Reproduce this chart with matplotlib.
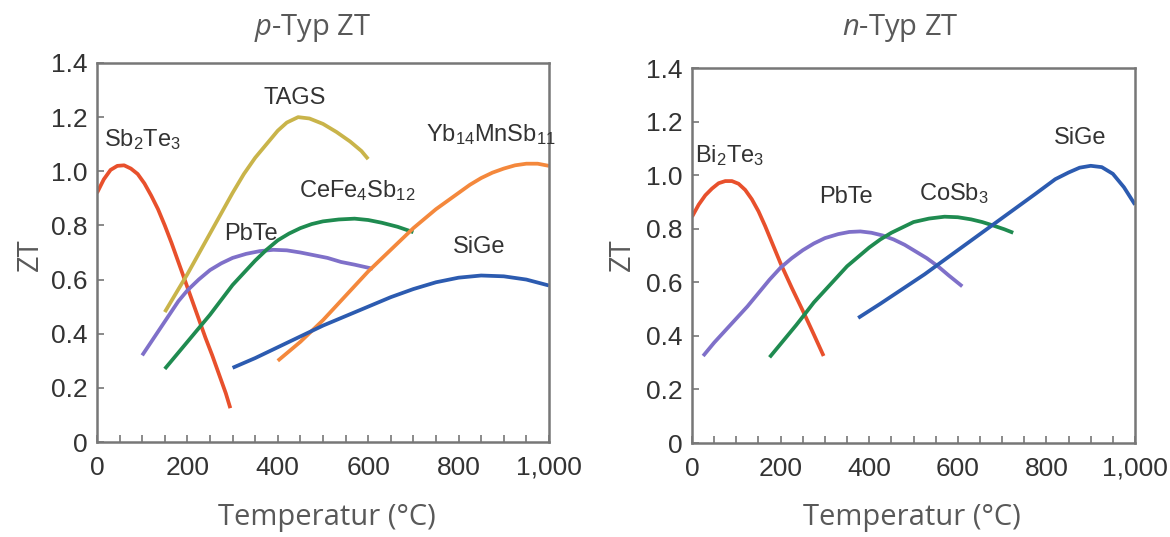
import matplotlib
matplotlib.use("Agg")
import matplotlib.pyplot as plt
from matplotlib.ticker import MultipleLocator, FixedLocator

plt.rcParams['mathtext.fontset'] = 'custom'
plt.rcParams['mathtext.it'] = 'Open Sans:italic'
plt.rcParams['mathtext.rm'] = 'Open Sans'

narrow = ['Liberation Sans Narrow', 'Liberation Sans', 'DejaVu Sans']

# p-type curves (temperature in C, ZT)
sb2te3_t = [0, 15, 30, 45, 60, 75, 90, 105, 120, 135, 150, 165, 180, 195, 210, 225, 240, 255, 270, 285, 295]
sb2te3_zt = [0.92, 0.97, 1.005, 1.02, 1.022, 1.01, 0.99, 0.955, 0.91, 0.86, 0.80, 0.735, 0.665, 0.595,
             0.525, 0.455, 0.385, 0.32, 0.25, 0.18, 0.125]
tags_t = [150, 175, 200, 225, 250, 275, 300, 325, 350, 375, 400, 420, 445, 470, 500, 530, 560, 585, 600]
tags_zt = [0.48, 0.55, 0.62, 0.695, 0.77, 0.845, 0.92, 0.99, 1.05, 1.10, 1.15, 1.18, 1.20, 1.195, 1.175,
           1.145, 1.11, 1.075, 1.045]
pbte_p_t = [100, 120, 140, 160, 180, 200, 225, 250, 275, 300, 330, 360, 390, 420, 450, 480, 510, 540, 570, 610]
pbte_p_zt = [0.32, 0.37, 0.42, 0.47, 0.52, 0.56, 0.60, 0.635, 0.66, 0.68, 0.695, 0.705, 0.71, 0.708, 0.70,
             0.69, 0.68, 0.665, 0.655, 0.64]
cefe_t = [150, 175, 200, 225, 250, 275, 300, 325, 350, 375, 400, 425, 450, 475, 500, 535, 570, 600, 630, 665, 700]
cefe_zt = [0.27, 0.32, 0.37, 0.42, 0.47, 0.525, 0.58, 0.625, 0.67, 0.71, 0.745, 0.77, 0.79, 0.805, 0.815,
           0.822, 0.825, 0.82, 0.81, 0.795, 0.775]
yb_t = [400, 425, 450, 475, 500, 525, 550, 575, 600, 625, 650, 675, 700, 725, 750, 775, 800, 825, 850,
        875, 900, 925, 950, 975, 1000]
yb_zt = [0.30, 0.335, 0.37, 0.41, 0.45, 0.495, 0.54, 0.585, 0.63, 0.67, 0.71, 0.75, 0.79, 0.825, 0.86,
         0.89, 0.92, 0.95, 0.975, 0.995, 1.01, 1.022, 1.028, 1.028, 1.02]
sige_p_t = [300, 350, 400, 450, 500, 550, 600, 650, 700, 750, 800, 850, 900, 950, 1000]
sige_p_zt = [0.274, 0.31, 0.35, 0.39, 0.43, 0.465, 0.50, 0.535, 0.565, 0.59, 0.607, 0.615, 0.612, 0.60, 0.578]

# n-type curves
bi2te3_t = [0, 15, 30, 45, 60, 75, 90, 105, 120, 135, 150, 165, 180, 200, 225, 254, 275, 297]
bi2te3_zt = [0.845, 0.89, 0.925, 0.95, 0.97, 0.978, 0.978, 0.968, 0.945, 0.91, 0.865, 0.81, 0.75, 0.67,
             0.58, 0.48, 0.405, 0.325]
pbte_n_t = [25, 50, 75, 100, 125, 150, 175, 200, 225, 250, 275, 300, 330, 355, 380, 405, 430, 455, 480,
            505, 530, 555, 580, 610]
pbte_n_zt = [0.325, 0.375, 0.42, 0.465, 0.51, 0.56, 0.61, 0.655, 0.69, 0.72, 0.745, 0.765, 0.78, 0.788,
             0.79, 0.785, 0.775, 0.76, 0.74, 0.715, 0.69, 0.66, 0.625, 0.585]
cosb3_t = [175, 195, 215, 235, 254, 275, 300, 325, 350, 375, 400, 425, 450, 475, 500, 535, 570, 600, 630,
           655, 680, 705, 725]
cosb3_zt = [0.32, 0.36, 0.40, 0.44, 0.48, 0.525, 0.57, 0.615, 0.66, 0.695, 0.73, 0.76, 0.785, 0.805,
            0.825, 0.838, 0.845, 0.843, 0.835, 0.825, 0.812, 0.798, 0.785]
sige_n_t = [375, 425, 475, 525, 575, 625, 675, 725, 775, 820, 850, 875, 900, 925, 950, 975, 1000]
sige_n_zt = [0.467, 0.52, 0.575, 0.63, 0.69, 0.75, 0.81, 0.87, 0.93, 0.985, 1.01, 1.028, 1.035, 1.03,
             1.005, 0.955, 0.89]

x_ticks = [0, 200, 400, 600, 800, 1000]
x_ticklabels = ['0', '200', '400', '600', '800', '1,000']
y_ticks = [0, 0.2, 0.4, 0.6, 0.8, 1.0, 1.2, 1.4]
y_ticklabels = ['0', '0.2', '0.4', '0.6', '0.8', '1.0', '1.2', '1.4']

RED = '#e8502c'
YEL = '#c9b44a'
PUR = '#7f70c9'
GRN = '#1f8b50'
ORA = '#f4883c'
BLU = '#2c5bb0'

fig = plt.figure(figsize=(11.7, 5.37), dpi=100)
ax1 = fig.add_axes([0.0829, 0.1769, 0.3863, 0.7058])
ax2 = fig.add_axes([0.5915, 0.1750, 0.3786, 0.6983])


def style(ax):
    ax.set_xlim(0, 1000)
    ax.set_ylim(0, 1.4)
    ax.xaxis.set_major_locator(FixedLocator(x_ticks))
    ax.xaxis.set_minor_locator(MultipleLocator(50))
    ax.set_xticklabels(x_ticklabels)
    ax.set_yticks(y_ticks)
    ax.set_yticklabels(y_ticklabels)
    ax.tick_params(direction='in', length=5, width=1.2, color='#777777',
                   labelsize=19, labelcolor='#333333', pad=7)
    ax.tick_params(which='minor', direction='in', length=5, width=1.2, color='#777777')
    ax.tick_params(axis='x', pad=10)
    ax.tick_params(axis='y', which='minor', left=False)
    for lab in ax.get_xticklabels() + ax.get_yticklabels():
        lab.set_family(narrow)
    for s in ax.spines.values():
        s.set_color('#777777')
        s.set_linewidth(1.8)


def lab(ax, x, y, s):
    ax.text(x, y, s, ha='center', va='center', fontsize=17, color='#333333',
            family=narrow)


lw = 2.7
kw = dict(lw=lw, solid_capstyle='butt', solid_joinstyle='round')
ax1.plot(sb2te3_t, sb2te3_zt, color=RED, **kw)
ax1.plot(tags_t, tags_zt, color=YEL, **kw)
ax1.plot(pbte_p_t, pbte_p_zt, color=PUR, **kw)
ax1.plot(cefe_t, cefe_zt, color=GRN, **kw)
ax1.plot(yb_t, yb_zt, color=ORA, **kw)
ax1.plot(sige_p_t, sige_p_zt, color=BLU, **kw)
style(ax1)
lab(ax1, 101, 1.116, r'Sb$\mathregular{_2}$Te$\mathregular{_3}$')
lab(ax1, 438, 1.27, 'TAGS')
lab(ax1, 871, 1.135, r'Yb$\mathregular{_{14}}$MnSb$\mathregular{_{11}}$')
lab(ax1, 576, 0.93, r'CeFe$\mathregular{_4}$Sb$\mathregular{_{12}}$')
lab(ax1, 341, 0.77, 'PbTe')
lab(ax1, 846, 0.72, 'SiGe')

ax2.plot(bi2te3_t, bi2te3_zt, color=RED, **kw)
ax2.plot(pbte_n_t, pbte_n_zt, color=PUR, **kw)
ax2.plot(cosb3_t, cosb3_zt, color=GRN, **kw)
ax2.plot(sige_n_t, sige_n_zt, color=BLU, **kw)
style(ax2)
lab(ax2, 85, 1.073, r'Bi$\mathregular{_2}$Te$\mathregular{_3}$')
lab(ax2, 347, 0.918, 'PbTe')
lab(ax2, 591, 0.93, r'CoSb$\mathregular{_3}$')
lab(ax2, 877, 1.14, 'SiGe')

gray = '#595959'
fig.text(313 / 1170, 1 - 28 / 537, r'$\it{p}$-Typ ZT', ha='center', va='center',
         fontsize=21, color=gray, family='Open Sans')
fig.text(900 / 1170, 1 - 28 / 537, r'$\it{n}$-Typ ZT', ha='center', va='center',
         fontsize=21, color=gray, family='Open Sans')
fig.text(327 / 1170, 1 - 518 / 537, 'Temperatur (°C)', ha='center', va='center',
         fontsize=21, color=gray, family='Open Sans')
fig.text(912 / 1170, 1 - 518 / 537, 'Temperatur (°C)', ha='center', va='center',
         fontsize=21, color=gray, family='Open Sans')
fig.text(30 / 1170, 1 - 255 / 537, 'ZT', ha='center', va='center', rotation=90,
         fontsize=21, color=gray, family='Open Sans')
fig.text(622 / 1170, 1 - 255 / 537, 'ZT', ha='center', va='center', rotation=90,
         fontsize=21, color=gray, family='Open Sans')

fig.savefig('out.png', dpi=100)
